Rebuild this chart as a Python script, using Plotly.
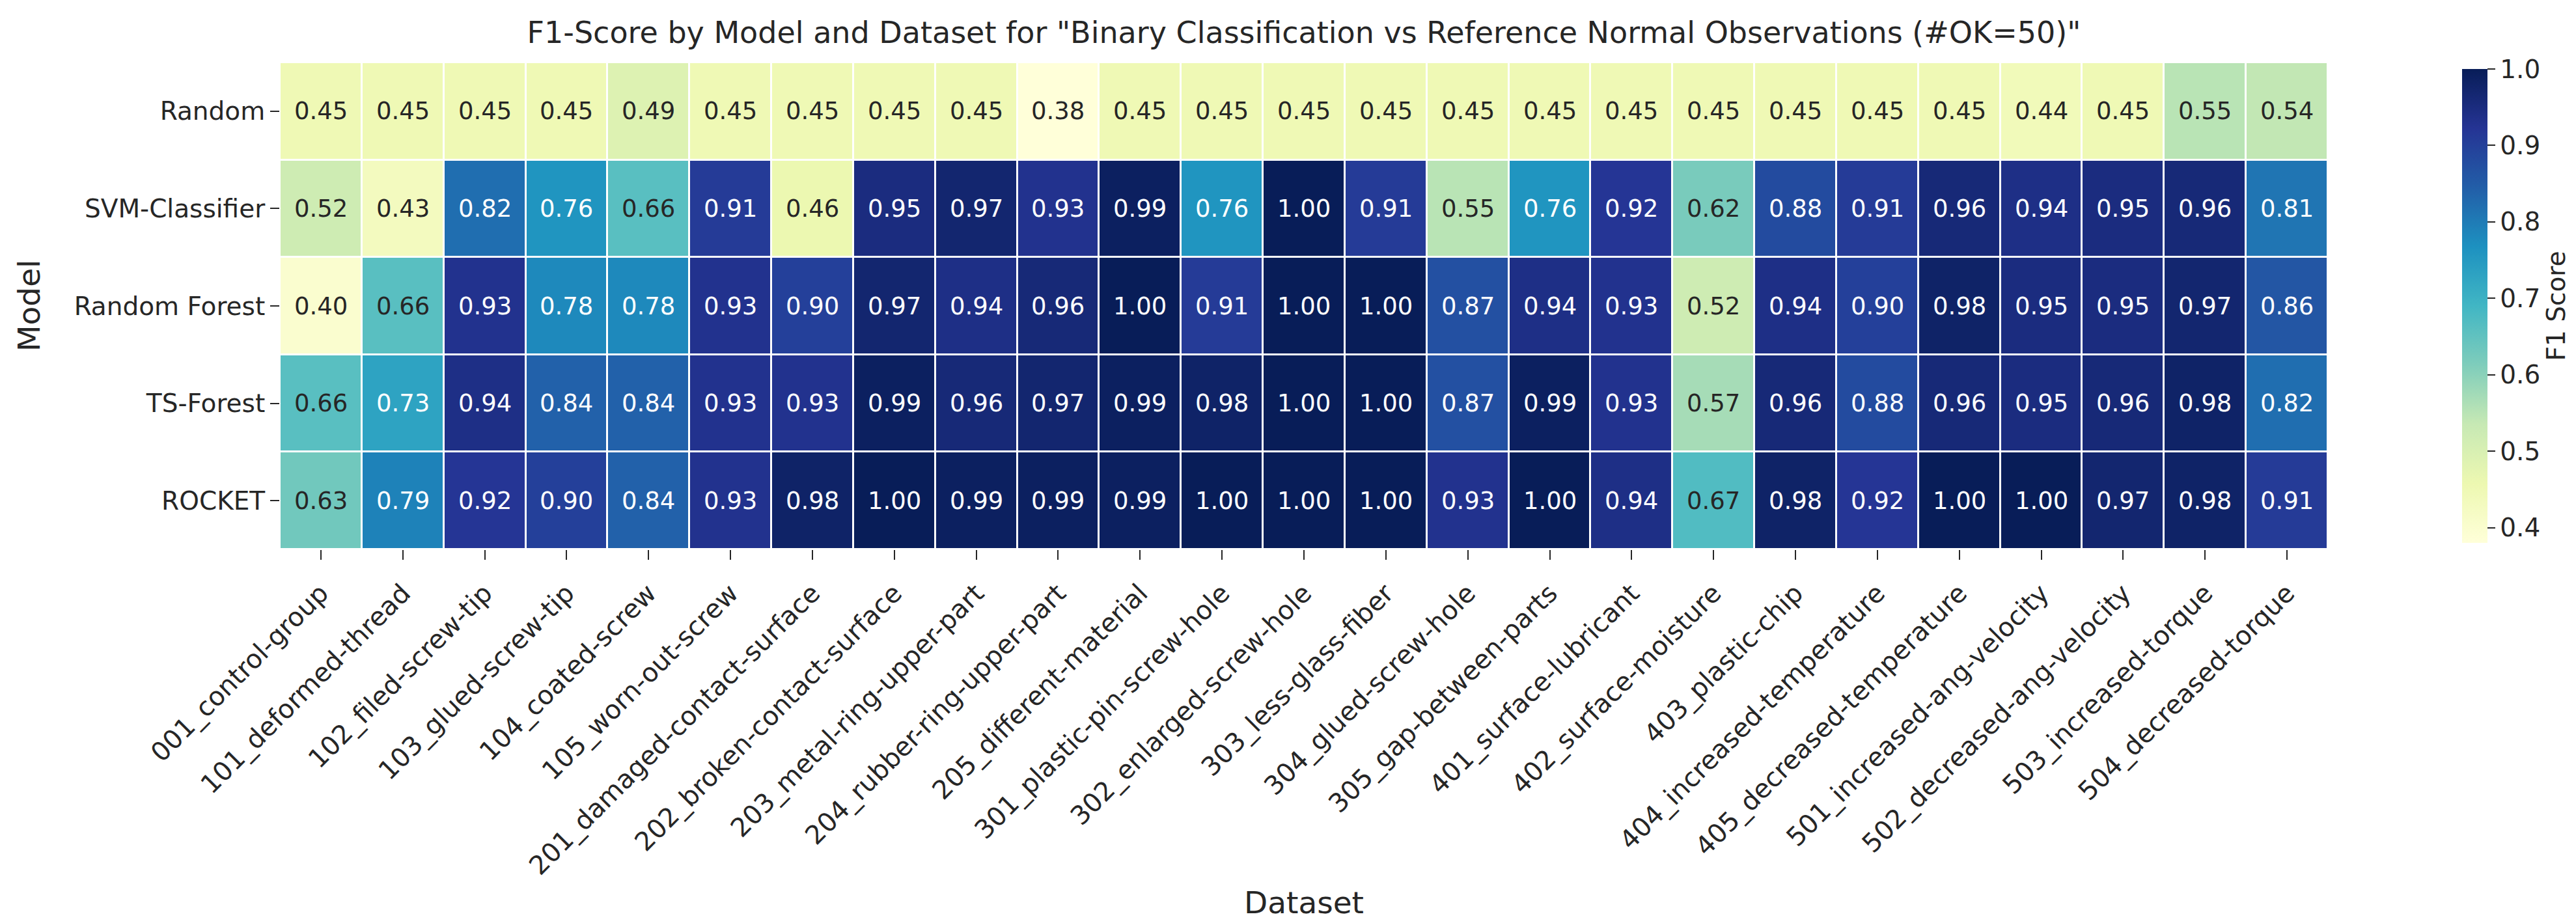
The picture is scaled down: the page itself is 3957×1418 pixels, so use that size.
import plotly.graph_objects as go

# Rows (top -> bottom) and columns of the F1 heatmap
MODELS = ["Random", "SVM-Classifier", "Random Forest", "TS-Forest", "ROCKET"]
DATASETS = [
    "001_control-group", "101_deformed-thread", "102_filed-screw-tip", "103_glued-screw-tip",
    "104_coated-screw", "105_worn-out-screw", "201_damaged-contact-surface",
    "202_broken-contact-surface", "203_metal-ring-upper-part", "204_rubber-ring-upper-part",
    "205_different-material", "301_plastic-pin-screw-hole", "302_enlarged-screw-hole",
    "303_less-glass-fiber", "304_glued-screw-hole", "305_gap-between-parts",
    "401_surface-lubricant", "402_surface-moisture", "403_plastic-chip",
    "404_increased-temperature", "405_decreased-temperature", "501_increased-ang-velocity",
    "502_decreased-ang-velocity", "503_increased-torque", "504_decreased-torque",
]

f1_random = [0.45, 0.45, 0.45, 0.45, 0.49, 0.45, 0.45, 0.45, 0.45, 0.38, 0.45, 0.45, 0.45,
             0.45, 0.45, 0.45, 0.45, 0.45, 0.45, 0.45, 0.45, 0.44, 0.45, 0.55, 0.54]
f1_svm = [0.52, 0.43, 0.82, 0.76, 0.66, 0.91, 0.46, 0.95, 0.97, 0.93, 0.99, 0.76, 1.00,
          0.91, 0.55, 0.76, 0.92, 0.62, 0.88, 0.91, 0.96, 0.94, 0.95, 0.96, 0.81]
f1_rf = [0.40, 0.66, 0.93, 0.78, 0.78, 0.93, 0.90, 0.97, 0.94, 0.96, 1.00, 0.91, 1.00,
         1.00, 0.87, 0.94, 0.93, 0.52, 0.94, 0.90, 0.98, 0.95, 0.95, 0.97, 0.86]
f1_tsf = [0.66, 0.73, 0.94, 0.84, 0.84, 0.93, 0.93, 0.99, 0.96, 0.97, 0.99, 0.98, 1.00,
          1.00, 0.87, 0.99, 0.93, 0.57, 0.96, 0.88, 0.96, 0.95, 0.96, 0.98, 0.82]
f1_rocket = [0.63, 0.79, 0.92, 0.90, 0.84, 0.93, 0.98, 1.00, 0.99, 0.99, 0.99, 1.00, 1.00,
             1.00, 0.93, 1.00, 0.94, 0.67, 0.98, 0.92, 1.00, 1.00, 0.97, 0.98, 0.91]

Z = [f1_random, f1_svm, f1_rf, f1_tsf, f1_rocket]

# colorbrewer YlGnBu, light -> dark (same as matplotlib's)
YLGNBU = ["#ffffd9", "#edf8b1", "#c7e9b4", "#7fcdbb", "#41b6c4",
          "#1d91c0", "#225ea8", "#253494", "#081d58"]
colorscale = [[i / (len(YLGNBU) - 1), c] for i, c in enumerate(YLGNBU)]

FONT = "DejaVu Sans"
INK = "#262626"
W, H = 3957, 1418
ML, MR, MT, MB = 422, 389, 88, 582
PW, PH = W - ML - MR, H - MT - MB
zmin = min(min(r) for r in Z)
zmax = 1.0

fig = go.Figure()
fig.add_trace(go.Heatmap(
    z=Z, x=DATASETS, y=MODELS, colorscale=colorscale, zmin=zmin, zmax=zmax,
    xgap=3, ygap=3,
    colorbar=dict(
        title=dict(text="F1 Score", side="right", font=dict(size=39, family=FONT, color=INK)),
        thickness=39, thicknessmode="pixels", len=1, lenmode="fraction", y=0.5, yanchor="middle",
        x=(3764 - ML) / PW, xanchor="left", outlinewidth=0,
        tickmode="linear", tick0=0.4, dtick=0.1, tickformat=".1f",
        ticks="outside", ticklen=12, tickwidth=2, tickcolor=INK,
        tickfont=dict(size=39, family=FONT, color=INK),
    ),
    hovertemplate="%{y} / %{x}: %{z:.2f}<extra></extra>",
))

# cell labels, dark text on light cells, white on dark (seaborn-style)
annotations = []
for r, model in enumerate(MODELS):
    for c, ds in enumerate(DATASETS):
        v = Z[r][c]
        annotations.append(dict(
            x=ds, y=model, xref="x", yref="y", text=f"{v:.2f}", showarrow=False,
            font=dict(size=37, family=FONT, color=INK if v < 0.70 else "#ffffff"),
        ))

annotations.append(dict(
    text="Model", xref="paper", yref="paper", x=(36 - ML) / PW, y=0.5,
    xanchor="center", yanchor="middle", textangle=-90, showarrow=False,
    font=dict(size=47, family=FONT, color=INK),
))
annotations.append(dict(
    text="Dataset", xref="paper", yref="paper", x=0.5, y=(H - 1378 - MB) / PH,
    xanchor="center", yanchor="middle", showarrow=False,
    font=dict(size=47, family=FONT, color=INK),
))

fig.update_layout(
    width=W, height=H,
    title=dict(
        text='F1-Score by Model and Dataset for "Binary Classification vs Reference Normal Observations (#OK=50)"',
        x=0.5, xref="paper", y=1 - 42 / H, yref="container", xanchor="center", yanchor="middle",
        font=dict(size=46, family=FONT, color=INK),
    ),
    font=dict(family=FONT, color=INK),
    paper_bgcolor="white", plot_bgcolor="white",
    margin=dict(l=ML, r=MR, t=MT, b=MB, autoexpand=False),
    annotations=annotations,
)
fig.update_xaxes(
    tickangle=-45, ticks="outside", ticklen=15, tickwidth=2, tickcolor=INK,
    tickfont=dict(size=40, family=FONT, color=INK), showgrid=False, zeroline=False,
    ticklabelstandoff=12,
)
fig.update_yaxes(
    autorange="reversed", ticks="outside", ticklen=14, tickwidth=2, tickcolor=INK,
    tickfont=dict(size=39, family=FONT, color=INK), showgrid=False, zeroline=False,
)

fig.write_html("out.html")
